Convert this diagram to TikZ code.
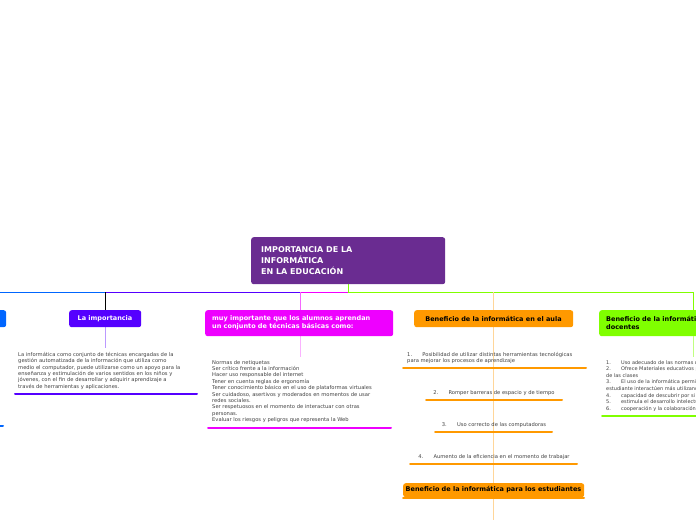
\documentclass[tikz,border=0pt]{standalone}
\usepackage{fontspec}
\setmainfont{DejaVu Sans}
\begin{document}
\begin{tikzpicture}[x=1pt,y=-1pt,
 box/.style={rounded corners=2.5pt,inner sep=0pt,anchor=north west},
 tt/.style={font=\fontsize{5.2}{6.4}\selectfont,text=black!75,align=left,inner sep=0pt},
 ul/.style={line width=2pt,line cap=round}]
\definecolor{mpur}{HTML}{6A2C91}\definecolor{vio}{HTML}{5500FF}
\definecolor{mag}{HTML}{EE00FF}\definecolor{org}{HTML}{FF9900}
\definecolor{grn}{HTML}{80FF00}\definecolor{blu}{HTML}{0066FF}
\useasboundingbox (0,0) rectangle (696,520);
\clip (0,0) rectangle (696,520);
% lines
\draw[blu,line width=0.8pt] (0,292) -- (105,292);
\draw[vio,line width=0.8pt] (105,292) -- (300,292);
\draw[mag,line width=0.8pt] (300,292) -- (348,292);
\draw[grn,line width=0.8pt] (348,292) -- (693,292) -- (693,310);
\draw[grn,line width=0.8pt] (348,284) -- (348,292);
\draw[black,line width=0.6pt] (105,292) -- (105,310);
\draw[vio!40,line width=0.6pt] (105,327) -- (105,348);
\draw[mag!60,line width=0.6pt] (300,292) -- (300,310);
\draw[mag!30,line width=0.6pt] (300,336) -- (300,357);
\draw[org!40,line width=0.6pt] (493,292) -- (493,520);
% main
\node[box,fill=mpur,minimum width=194pt,minimum height=47pt] (main) at (251,237) {};
\node[anchor=west,text=white,font=\bfseries\fontsize{8}{11}\selectfont,align=left,inner sep=0pt] at (261,260.5) {IMPORTANCIA DE LA\\INFORMÁTICA\\ EN LA EDUCACIÓN};
% left blue
\node[box,fill=blu,minimum width=12pt,minimum height=17pt] (lb) at (-6,310) {};
\draw[blu,ul] (0,426) -- (3,426);
% importancia
\node[box,fill=vio,minimum width=72pt,minimum height=17pt] (imp) at (69,310) {};
\node[text=white,font=\bfseries\fontsize{6.5}{7}\selectfont] at (105,318.5) {La importancia};
\node[tt,anchor=north west] (impt) at (18,352) {La informática como  conjunto de técnicas encargadas de la\\gestión automatizada de la información que utiliza como\\medio el computador, puede utilizarse como un apoyo para la\\enseñanza y estimulación de varios sentidos en los niños y\\jóvenes, con el fin de desarrollar y adquirir aprendizaje a\\través de herramientas y aplicaciones.};
\draw[vio,ul] (15,394) -- (197,394);
% magenta
\node[box,fill=mag,minimum width=188pt,minimum height=26pt] (mg) at (205,310) {};
\node[anchor=west,text=white,font=\bfseries\fontsize{6.5}{8}\selectfont,align=left,inner sep=0pt] at (212,323) {muy importante que los alumnos aprendan\\un conjunto de técnicas básicas como:};
\node[tt,anchor=north west] (mgt) at (212,360) {Normas de netiquetas\\Ser crítico frente a la información\\Hacer uso responsable del internet\\Tener en cuenta reglas de ergonomía\\Tener conocimiento básico en el uso de plataformas virtuales\\Ser cuidadoso, asertivos y moderados en momentos de usar\\redes sociales.\\Ser respetuosos en el momento de interactuar con otras\\personas.\\Evaluar los riesgos y peligros que representa la Web};
\draw[mag,ul] (208,428) -- (391,428);
% orange
\node[box,fill=org,minimum width=159pt,minimum height=17pt] (or) at (414,310) {};
\node[font=\bfseries\fontsize{6.5}{7}\selectfont] at (493.5,318.5) {Beneficio de la informática en el aula};
\node[tt,anchor=north west] (o1) at (407,352) {1.\hspace{8pt} Posibilidad de utilizar distintas herramientas tecnológicas\\para mejorar los procesos de aprendizaje};
\draw[org,ul] (403,368) -- (586,368);
\node[tt] (o2) at (494,393) {2.\hspace{8pt} Romper barreras de espacio y de tiempo};
\draw[org,ul] (426,400) -- (562,400);
\node[tt] (o3) at (494,425) {3.\hspace{8pt} Uso correcto de las computadoras};
\draw[org,ul] (435,432) -- (552,432);
\node[tt] (o4) at (494,457) {4.\hspace{8pt} Aumento de la eficiencia en el momento de trabajar};
\draw[org,ul] (410,464) -- (577,464);
\node[box,fill=org,minimum width=181pt,minimum height=14pt] (est) at (403,483) {};
\node[font=\bfseries\fontsize{6.5}{7}\selectfont] at (493.5,490) {Beneficio de la informática para los estudiantes};
\draw[org,ul] (403,498) -- (584,498);
% green
\node[box,fill=grn,minimum width=120pt,minimum height=26pt] (gr) at (599,310) {};
\node[anchor=west,font=\bfseries\fontsize{6.5}{8}\selectfont,align=left,inner sep=0pt] at (606,323) {Beneficio de la informática para los\\docentes};
\draw[grn!50,line width=0.6pt] (693,336) -- (693,357);
\node[tt,anchor=north west,font=\fontsize{5}{6.6}\selectfont] (gt) at (606,360) {1.\hspace{8pt} Uso adecuado de las normas de netiqueta\\2.\hspace{8pt} Ofrece Materiales educativos para el desarrollo\\de las clases\\3.\hspace{8pt} El uso  de la informática permite que el\\estudiante interactúen más utilizando\\4.\hspace{8pt} capacidad de descubrir por si mismo\\5.\hspace{8pt} estimula el desarrollo intelectual\\6.\hspace{8pt} cooperación y la colaboración};
\draw[grn,ul] (602,416) -- (700,416);
\end{tikzpicture}
\end{document}
